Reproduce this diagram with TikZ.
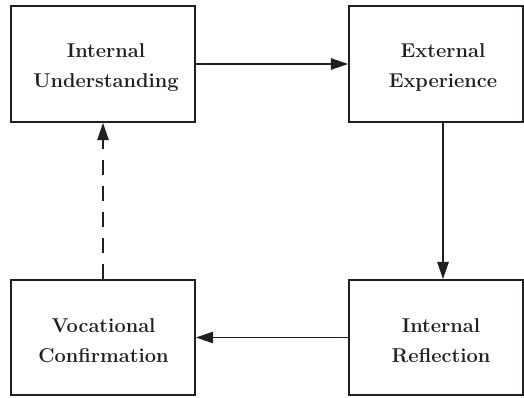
\documentclass[tikz,border=0pt]{standalone}
\usetikzlibrary{arrows.meta}
\definecolor{ink}{HTML}{231F20}
\begin{document}
\begin{tikzpicture}[x=0.75pt,y=-0.75pt,
  box/.style={draw=ink,line width=1.3pt,minimum height=87pt,inner sep=0pt},
  txt/.style={text=ink,font=\bfseries\fontsize{15}{22.5}\selectfont,align=center},
  arr/.style={draw=ink,line width=1.4pt,-{Triangle[length=13pt,width=8.5pt]}}]
\useasboundingbox (0,0) rectangle (524,397);
% boxes
\node[box,minimum width=138pt] (iu) at (103,64) {};
\node[box,minimum width=130.5pt] (ee) at (436,64) {};
\node[box,minimum width=130.5pt,minimum height=86.25pt] (ir) at (436,337.5) {};
\node[box,minimum width=138pt,minimum height=86.25pt] (vc) at (103,337.5) {};
% labels
\node[txt] (iut) at (106,67.5) {Internal\\Understanding};
\node[txt] (eet) at (443,67.5) {External\\Experience};
\node[txt] (irt) at (441,340.5) {Internal\\Reflection};
\node[txt] (vct) at (103.5,340.5) {Vocational\\Confirmation};
% cycle
\draw[arr] (iu.east) -- (ee.west);
\draw[arr] (ee.south -| eet) -- (ir.north -| eet);
\draw[arr] (ir.west) -- (vc.east);
\draw[arr,dash pattern=on 11pt off 8.5pt] (vc.north) -- (iu.south);
\end{tikzpicture}
\end{document}
